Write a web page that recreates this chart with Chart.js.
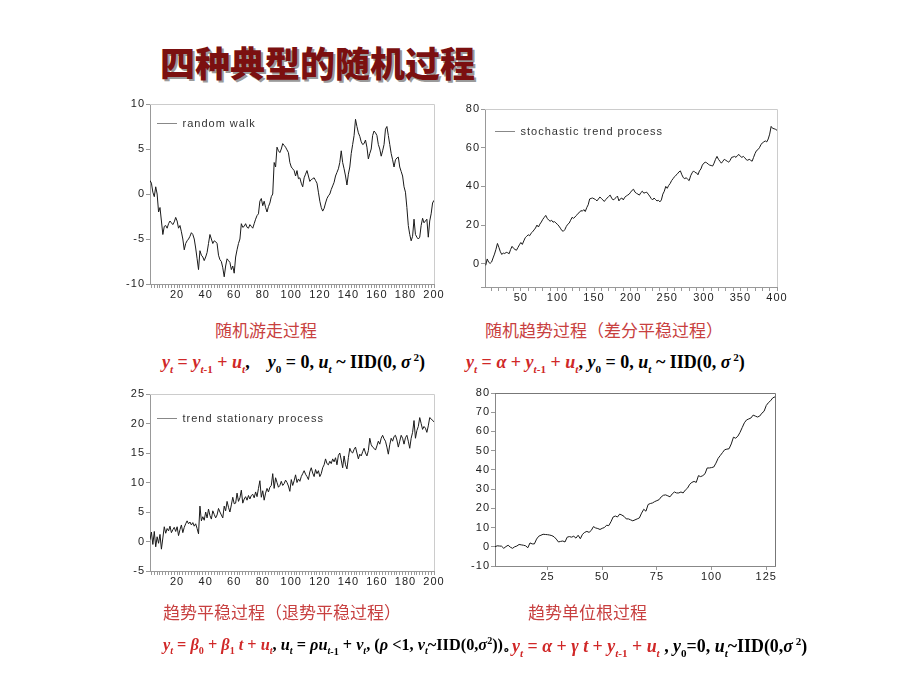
<!DOCTYPE html>
<html>
<head>
<meta charset="utf-8">
<script src="https://cdn.jsdelivr.net/npm/chart.js@4"></script>
<style>
  body { margin: 0; background: #fff; width: 920px; height: 690px; position: relative; overflow: hidden; }
  canvas { position: absolute; }
  #title {
    position: absolute; left: 160px; top: 42px; line-height: 40px;
    font-family: "Noto Sans CJK SC"; font-weight: 900; font-size: 35px;
    color: #7b1010; text-shadow: 2px 2px 0 #9a9a9a; white-space: nowrap;
  }
  .cap {
    position: absolute; line-height: 20px; font-family: "Noto Sans CJK SC";
    font-size: 17px; color: #c84040; white-space: nowrap;
  }
  .f {
    position: absolute; line-height: 22px; font-family: "Liberation Serif", serif;
    font-weight: bold; color: #000; white-space: nowrap;
  }
  .f .r { color: #d02828; }
  .f sub, .f sup { font-size: 0.62em; }
</style>
</head>
<body>
<div id="title">四种典型的随机过程</div>

<canvas id="c1" width="335" height="215" style="left:110px;top:95px"></canvas>
<canvas id="c2" width="345" height="210" style="left:445px;top:100px"></canvas>
<canvas id="c3" width="335" height="215" style="left:110px;top:385px"></canvas>
<canvas id="c4" width="335" height="210" style="left:455px;top:385px"></canvas>

<div class="cap" style="left:215px;top:320px">随机游走过程</div>
<div class="cap" style="left:485px;top:320px">随机趋势过程（差分平稳过程）</div>
<div class="f" style="left:162px;top:346px;font-size:18px"><span class="r"><i>y<sub>t</sub></i> = <i>y<sub>t</sub></i><sub>-1</sub> + <i>u<sub>t</sub></i></span>,&nbsp;&nbsp;&nbsp; <i>y</i><sub>0</sub> = 0, <i>u<sub>t</sub></i> ~ IID(0, <i>σ</i><sup> 2</sup>)</div>
<div class="f" style="left:466px;top:346px;font-size:18px"><span class="r"><i>y<sub>t</sub></i> = <i>α</i> + <i>y<sub>t</sub></i><sub>-1</sub> + <i>u<sub>t</sub></i></span>, <i>y</i><sub>0</sub> = 0, <i>u<sub>t</sub></i> ~ IID(0, <i>σ</i><sup> 2</sup>)</div>

<div class="cap" style="left:163px;top:602px">趋势平稳过程（退势平稳过程）</div>
<div class="cap" style="left:528px;top:602px">趋势单位根过程</div>
<div class="f" style="left:163px;top:630px;font-size:16.3px"><span class="r"><i>y<sub>t</sub></i> = <i>β</i><sub>0</sub> + <i>β</i><sub>1</sub> <i>t</i> + <i>u<sub>t</sub></i></span>, <i>u<sub>t</sub></i> = <i>ρu<sub>t</sub></i><sub>-1</sub> + <i>v<sub>t</sub></i>, (<i>ρ</i> &lt;1, <i>v<sub>t</sub></i>~IID(0,<i>σ</i><sup>2</sup>))。</div>
<div class="f" style="left:512px;top:630px;font-size:17.9px"><span class="r"><i>y<sub>t</sub></i> = <i>α</i> + <i>γ t</i> + <i>y<sub>t</sub></i><sub>-1</sub> + <i>u<sub>t</sub></i></span> , <i>y</i><sub>0</sub>=0, <i>u<sub>t</sub></i>~IID(0,<i>σ</i><sup> 2</sup>)</div>

<script>
// values

// random walk, t = 1..200
const rwValues = [
    1.5, 1.2, 0.2, -0.3, 0.8, 0.0, -2.0, -1.5, -3.0, -4.5,
    -3.6, -3.5, -3.8, -3.3, -3.0, -3.2, -3.4, -3.1, -2.6, -3.0,
    -3.8, -3.5, -4.2, -5.0, -6.2, -5.5, -5.2, -5.0, -4.7, -4.3,
    -4.5, -5.0, -6.0, -7.2, -8.4, -6.3, -6.8, -7.0, -7.4, -7.0,
    -6.5, -5.5, -4.5, -5.0, -5.5, -5.2, -5.3, -5.5, -6.8, -7.3,
    -7.5, -8.2, -9.2, -8.0, -7.2, -7.4, -7.6, -8.4, -8.0, -8.8,
    -7.0, -6.2, -5.5, -5.0, -3.3, -3.7, -3.6, -3.3, -3.7, -3.8,
    -3.4, -3.6, -3.8, -3.3, -2.8, -2.4, -2.2, -0.8, -0.5, -1.3,
    -0.8, -1.5, -2.0, -1.4, -1.0, -0.3, 0.0, 3.5, 3.0, 5.2,
    4.8, 4.6, 5.0, 5.6, 5.4, 5.2, 4.9, 4.6, 3.5, 3.0,
    2.8, 2.6, 2.0, 2.6, 1.7, 1.8, 1.2, 0.8, 1.8, 2.2,
    2.6, 2.0, 1.4, 1.6, 1.7, 1.8, 1.5, 1.2, 0.2, -0.8,
    -1.5, -1.9, -1.6, -1.0, -0.5, -0.2, 0.0, 0.5, 0.9, 1.3,
    2.0, 2.4, 2.8, 3.5, 4.8, 3.5, 2.8, 2.0, 1.0, 2.2,
    3.0, 4.5, 5.5, 6.5, 8.3, 7.5, 6.8, 6.4, 5.8, 5.5,
    5.6, 6.0, 5.2, 3.9, 4.5, 5.0, 6.5, 7.0, 6.8, 6.5,
    5.5, 5.0, 4.2, 4.8, 5.5, 7.2, 7.5, 6.5, 5.5, 4.5,
    3.8, 3.0, 3.8, 4.0, 4.1, 3.0, 2.5, 2.0, 0.8, 0.2,
    -1.5, -3.5, -4.5, -5.2, -4.7, -2.8, -4.5, -4.8, -5.0, -4.8,
    -3.5, -2.7, -3.2, -3.0, -2.8, -4.8, -3.0, -2.2, -1.0, -0.7
]

// stochastic trend, read every 2nd observation (t = 2..400)
const stStep = 2
const stValues = [
    -0.8, 2.5, 0.8, 0.2, 0.9, 3.0, 5.0, 7.5, 10.5, 8.5, 6.2, 4.8, 5.6, 5.3, 5.9, 5.7, 5.2, 7.4, 9.0, 8.0,
    7.4, 7.0, 8.4, 9.8, 11.0, 10.0, 11.8, 13.5, 14.2, 15.0, 14.5, 15.8, 16.5, 17.5, 18.5, 20.0, 19.0, 20.5, 21.6, 23.0,
    24.0, 25.0, 23.5, 22.6, 22.0, 22.5, 21.5, 21.8, 21.0, 20.4, 19.5, 18.4, 17.2, 16.8, 17.6, 19.2, 20.4, 21.0, 22.5, 24.0,
    23.5, 24.2, 25.0, 26.0, 26.5, 27.5, 27.2, 28.0, 27.0, 29.0, 30.5, 33.5, 33.8, 34.0, 33.6, 33.2, 32.5, 33.5, 34.5, 33.8,
    33.0, 32.2, 33.2, 34.0, 34.8, 35.5, 34.0, 33.0, 33.5, 34.2, 35.0, 32.5, 33.6, 34.0, 33.0, 34.4, 35.0, 35.5, 36.0, 37.0,
    38.0, 38.5, 37.0, 36.4, 36.0, 35.5, 36.8, 37.5, 36.5, 36.8, 37.0, 36.0, 35.0, 33.8, 33.0, 34.0, 33.2, 32.5, 32.8, 32.0,
    33.0, 36.0, 37.5, 40.0, 39.0, 40.5, 41.5, 43.0, 44.0, 45.0, 45.8, 46.5, 47.5, 48.0, 46.0, 44.5, 44.0, 44.5, 43.6, 43.0,
    45.5, 47.0, 48.0, 47.2, 47.0, 46.0, 48.0, 49.0, 51.0, 52.0, 52.5, 52.2, 51.5, 51.0, 50.8, 50.5, 52.0, 54.0, 55.5, 54.0,
    53.0, 52.0, 53.0, 54.0, 53.5, 53.0, 52.5, 53.5, 55.0, 55.2, 55.5, 55.0, 56.0, 56.5, 55.5, 55.0, 55.5, 54.8, 53.8, 53.5,
    54.0, 53.5, 53.0, 55.0, 57.0, 58.5, 59.0, 60.0, 61.5, 62.5, 63.0, 63.5, 63.0, 64.5, 67.0, 71.0, 70.0, 69.8, 69.5, 69.0
]

// trend stationary, t = 1..200
const tsValues = [
    0.3, 1.6, -0.5, 1.7, -0.9, 0.8, -0.3, 1.2, -1.3, 0.6,
    2.5, 1.4, 2.2, 1.8, 2.6, 1.5, 2.0, 2.4, 1.7, 2.5,
    1.0, 2.0, 2.8, 1.5, 2.4, 3.0, 3.5, 3.0, 3.3, 2.8,
    3.2, 2.6, 3.0, 2.2, 1.3, 6.0, 3.5, 4.2, 3.6, 5.0,
    4.0, 5.5, 4.4, 3.8, 5.2, 4.6, 4.0, 4.5, 5.6, 5.0,
    4.5, 4.0, 6.0, 5.2, 6.8, 5.8, 5.0, 6.2, 7.5, 6.4,
    6.5, 8.2, 6.8, 7.4, 8.7, 6.5, 7.2, 7.6, 7.0, 7.8,
    7.2, 7.8, 8.0, 7.4, 8.4, 7.6, 9.0, 10.3, 7.5, 8.6,
    7.0, 8.2, 9.0, 8.4, 9.2, 9.5, 11.5, 9.0, 10.8, 10.0,
    9.2, 9.5, 10.2, 9.5, 9.8, 10.4, 10.0, 9.4, 8.5, 10.5,
    9.5, 10.3, 11.3, 10.0, 10.6, 10.2, 11.0, 11.5, 12.0, 11.4,
    11.0, 10.5, 11.8, 12.5, 11.6, 11.0, 12.2, 11.5, 12.0, 11.0,
    11.5, 12.5, 13.0, 14.0, 13.2, 13.0, 13.6, 13.2, 14.0, 13.5,
    14.2, 13.0, 14.6, 15.0, 13.8, 12.5, 14.5, 13.0, 12.3, 14.2,
    15.8, 15.2, 15.0, 15.6, 16.0, 15.0, 14.0, 14.8, 14.5, 15.2,
    15.8, 15.0, 14.5, 15.4, 17.5, 16.4, 16.0, 15.8, 15.5, 16.2,
    17.0, 16.5, 17.5, 18.0, 17.4, 17.0, 16.0, 14.8, 16.4, 17.5,
    17.0, 17.8, 18.0, 17.2, 16.0, 17.0, 18.0, 17.5, 16.5, 17.6,
    18.0, 17.0, 15.8, 17.5, 18.5, 20.5, 17.5, 18.8, 19.5, 21.0,
    20.0, 19.0, 19.5, 19.2, 18.5, 19.6, 21.0, 20.8, 20.5, 20.3
]

// trend unit root, t = 1..129
const turValues = [
    0.0, 0.5, 0.4, 0.3, -0.8, 0.1, 0.8, -0.2, -0.8, 0.0,
    0.4, 1.2, 1.0, 0.8, 0.5, -0.5, 2.0, 1.5, 1.5, 4.0,
    5.5, 6.0, 6.5, 6.4, 6.3, 6.1, 5.8, 5.2, 4.0, 2.5,
    2.8, 3.0, 2.5, 5.0, 5.3, 5.0, 5.5, 4.5, 6.0, 4.2,
    6.5, 7.5, 8.0, 7.5, 8.5, 10.5, 9.8, 9.5, 9.0, 9.6,
    10.0, 11.2, 11.0, 13.0, 15.5, 16.0, 15.5, 17.0, 16.5, 15.8,
    14.5, 14.5, 14.0, 13.5, 14.0, 14.5, 15.0, 17.5, 19.5, 18.5,
    22.0, 22.5, 22.8, 23.5, 24.0, 24.5, 26.0, 26.8, 27.0, 26.5,
    26.0, 27.5, 28.5, 28.0, 28.0, 28.5, 28.0, 29.5, 30.5, 32.5,
    33.5, 34.0, 33.5, 37.0, 36.5, 37.0, 38.0, 41.0, 41.0, 41.2,
    41.5, 43.5, 46.0, 47.5, 49.0, 50.5, 50.8, 51.0, 53.5, 57.0,
    56.5, 57.5, 59.5, 62.0, 64.5, 66.0, 66.5, 67.0, 68.5, 68.0,
    67.5, 68.0, 69.5, 70.5, 73.5, 75.0, 76.0, 77.5, 78.0
]

// tick labels shown on each axis
const rwXLabels = [20, 40, 60, 80, 100, 120, 140, 160, 180, 200]
const rwYLabels = [-10, -5, 0, 5, 10]
const stXLabels = [50, 100, 150, 200, 250, 300, 350, 400]
const stYLabels = [0, 20, 40, 60, 80]
const tsXLabels = rwXLabels
const tsYLabels = [-5, 0, 5, 10, 15, 20, 25]
const turXLabels = [25, 50, 75, 100, 125]
const turYLabels = [-10, 0, 10, 20, 30, 40, 50, 60, 70, 80]

Chart.defaults.font.family = 'Liberation Sans'
Chart.defaults.color = '#222'

// EViews text is a bit spaced out
const spacingPlugin = {
    id: 'spacing',
    beforeUpdate(chart) { chart.ctx.letterSpacing = '1px' },
    beforeDraw(chart) { chart.ctx.letterSpacing = '1px' }
}

// light box line on the top and right of the plot area
const framePlugin = {
    id: 'frame',
    beforeDatasetsDraw(chart, args, opts) {
        const { ctx, chartArea: a } = chart
        ctx.save()
        ctx.strokeStyle = opts.color
        ctx.lineWidth = 1
        ctx.beginPath()
        ctx.moveTo(a.left, a.top + 0.5)
        ctx.lineTo(a.right + 0.5, a.top + 0.5)
        ctx.lineTo(a.right + 0.5, a.bottom)
        ctx.stroke()
        ctx.restore()
    }
}

function toPoints(values, step) {
    return values.map((v, i) => ({ x: (i + 1) * step, y: v }))
}

function lineChart(id, o) {
    return new Chart(document.getElementById(id), {
        type: 'line',
        data: {
            datasets: [{
                label: o.label,
                data: o.points,
                borderColor: '#1a1a1a',
                borderWidth: 1,
                pointRadius: 0,
                tension: 0
            }]
        },
        options: {
            responsive: false,
            animation: false,
            layout: { padding: { top: o.padTop, right: o.padRight, left: 0, bottom: 0 } },
            scales: {
                x: {
                    type: 'linear',
                    min: o.xMin,
                    max: o.xMax,
                    afterFit: (s) => { s.height = o.xHeight },
                    grid: { drawOnChartArea: false, tickLength: 4, color: '#999' },
                    border: { color: o.axisColor },
                    ticks: {
                        stepSize: o.xStep,
                        includeBounds: false,
                        autoSkip: false,
                        maxRotation: 0,
                        maxTicksLimit: 1000,
                        padding: 0,
                        font: { size: 11 },
                        callback: (v) => (o.xLabels.includes(v) ? v : '')
                    }
                },
                y: {
                    min: o.yMin,
                    max: o.yMax,
                    afterFit: (s) => { s.width = 40 },
                    grid: { drawOnChartArea: false, tickLength: 4, color: '#999' },
                    border: { color: o.axisColor },
                    ticks: {
                        stepSize: o.yStep,
                        autoSkip: false,
                        maxTicksLimit: 1000,
                        padding: 1,
                        font: { size: 11 },
                        callback: (v) => (o.yLabels.includes(v) ? v : '')
                    }
                }
            },
            plugins: {
                legend: {
                    display: !!o.label,
                    position: 'chartArea',
                    align: 'start',
                    title: { display: true, text: '', padding: 0, font: { size: o.legendDrop, lineHeight: 1 } },
                    labels: {
                        usePointStyle: true,
                        pointStyle: 'line',
                        pointStyleWidth: 20,
                        padding: o.legendPad,
                        color: '#333',
                        font: { size: 11 },
                        generateLabels: (chart) =>
                            Chart.defaults.plugins.legend.labels.generateLabels(chart)
                                .map((l) => ({ ...l, strokeStyle: '#888' }))
                    }
                },
                tooltip: { enabled: false },
                frame: { color: o.frameColor }
            }
        },
        plugins: [spacingPlugin, framePlugin]
    })
}

lineChart('c1', {
    label: 'random walk', points: toPoints(rwValues, 1),
    xMin: 1, xMax: 200, xStep: 2, xLabels: rwXLabels,
    yMin: -10, yMax: 10, yStep: 5, yLabels: rwYLabels,
    padTop: 9, padRight: 11, xHeight: 26,
    legendPad: 7, legendDrop: 16,
    axisColor: '#999', frameColor: '#ccc'
})

lineChart('c2', {
    label: 'stochastic trend process', points: toPoints(stValues, stStep),
    xMin: 1, xMax: 400, xStep: 10, xLabels: stXLabels,
    yMin: -12, yMax: 80, yStep: 20, yLabels: stYLabels,
    padTop: 9, padRight: 13, xHeight: 23,
    legendPad: 10, legendDrop: 16,
    axisColor: '#999', frameColor: '#ccc'
})

lineChart('c3', {
    label: 'trend stationary process', points: toPoints(tsValues, 1),
    xMin: 1, xMax: 200, xStep: 2, xLabels: tsXLabels,
    yMin: -5, yMax: 25, yStep: 5, yLabels: tsYLabels,
    padTop: 9, padRight: 11, xHeight: 29,
    legendPad: 7, legendDrop: 21,
    axisColor: '#999', frameColor: '#ccc'
})

lineChart('c4', {
    label: '', points: toPoints(turValues, 1),
    xMin: 1, xMax: 129, xStep: 25, xLabels: turXLabels,
    yMin: -10, yMax: 80, yStep: 10, yLabels: turYLabels,
    padTop: 8, padRight: 15, xHeight: 29,
    legendPad: 7, legendDrop: 6,
    axisColor: '#888', frameColor: '#777'
})
</script>
</body>
</html>
